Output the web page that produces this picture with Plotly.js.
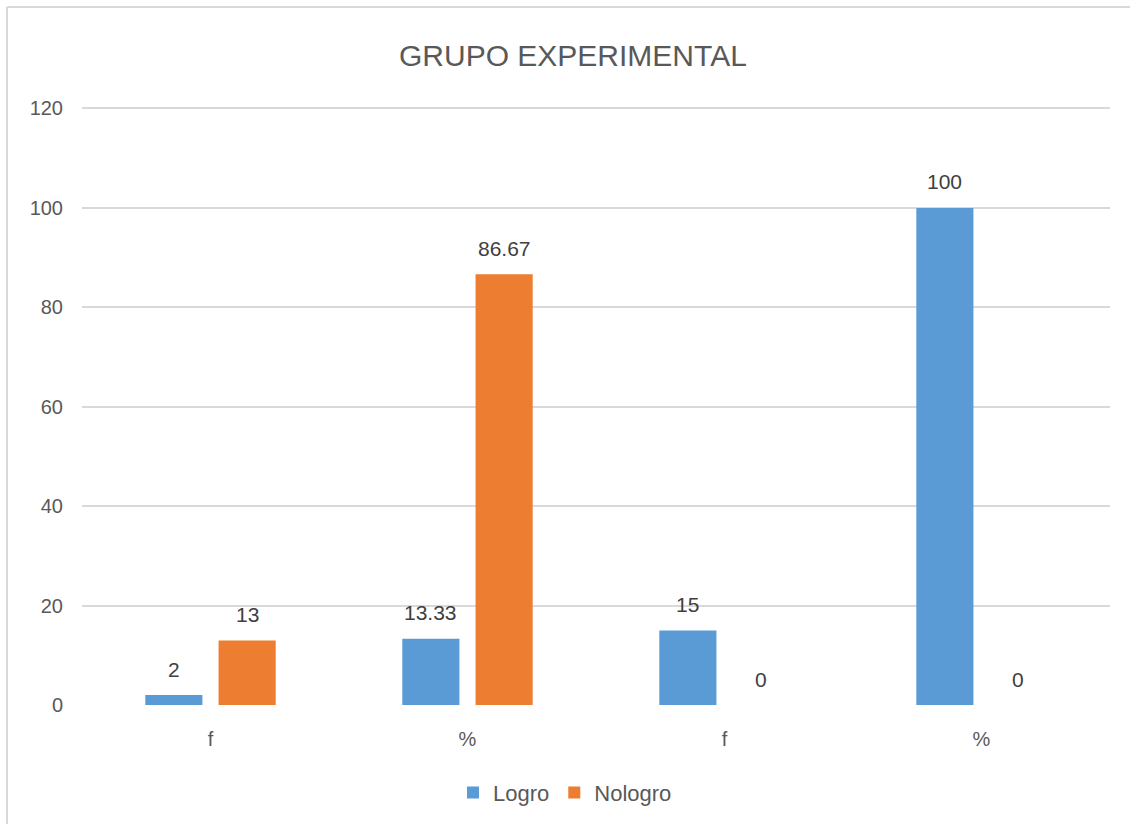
<!DOCTYPE html>
<html>
<head>
<meta charset="utf-8">
<script src="https://cdn.plot.ly/plotly-3.0.1.min.js"></script>
<style>
  html, body { margin: 0; padding: 0; background: #fff; overflow: hidden; width: 1130px; height: 824px; }
  #chart { width: 1130px; height: 824px; position: absolute; left: 0; top: 0; }
</style>
</head>
<body>
<div id="chart"></div>
<script>
const categories = ['f', '%', 'f', '%'];
const seriesNames = ['Logro', 'Nologro'];
const logro = [2, 13.33, 15, 100];
const nologro = [13, 86.67, 0, 0];
const yTicks = [0, 20, 40, 60, 80, 100, 120];

const positions = categories.map((c, i) => i);
const colors = ['#5B9BD5', '#ED7D31'];
const series = [logro, nologro];

const traces = series.map((vals, k) => ({
  type: 'bar',
  name: seriesNames[k],
  x: positions,
  y: vals,
  marker: { color: colors[k] },
  hoverinfo: 'skip'
}));

// data labels above bars
const bargap = 0.43, groupgap = 0.22;
const slot = (1 - bargap) / 2;
const annotations = [];
series.forEach((vals, k) => {
  vals.forEach((v, i) => {
    annotations.push({
      x: positions[i] + (k === 0 ? -slot / 2 : slot / 2),
      y: v, xref: 'x', yref: 'y',
      text: String(v), showarrow: false,
      yanchor: 'middle', yshift: 26,
      font: { family: 'Liberation Sans, Arial, sans-serif', size: 21, color: '#404040' }
    });
  });
});

const W = 1130, H = 824, mL = 82, mR = 20, mT = 107, mB = 119;
const pw = W - mL - mR, ph = H - mT - mB;
// outer chart-area frame (left and top edges) in paper units
const fx0 = (7 - mL) / pw, fx1 = (W - mL) / pw;
const fy0 = (mB - H) / ph, fy1 = (H - mB - 7) / ph;

const layout = {
  width: W, height: H,
  margin: { l: mL, r: mR, t: mT, b: mB },
  paper_bgcolor: '#ffffff', plot_bgcolor: '#ffffff',
  font: { family: 'Liberation Sans, Arial, sans-serif', color: '#595959' },
  title: {
    text: 'GRUPO EXPERIMENTAL',
    x: 0.507, xref: 'container', xanchor: 'center',
    y: 0.933, yref: 'container', yanchor: 'middle',
    font: { size: 30, color: '#595959' }
  },
  barmode: 'group', bargap: bargap, bargroupgap: groupgap,
  xaxis: {
    range: [-0.5, positions.length - 0.5],
    tickvals: positions, ticktext: categories,
    showgrid: false, zeroline: false, showline: false,
    ticks: 'outside', ticklen: 16, tickcolor: 'rgba(0,0,0,0)',
    tickfont: { size: 20, color: '#595959' }
  },
  yaxis: {
    range: [0, 120.3], tickvals: yTicks,
    showgrid: true, gridcolor: '#d9d9d9', gridwidth: 2,
    zeroline: false, showline: false,
    ticks: 'outside', ticklen: 14, tickcolor: 'rgba(0,0,0,0)',
    tickfont: { size: 20, color: '#595959' }
  },
  showlegend: true,
  legend: {
    orientation: 'h', x: 0.5, xanchor: 'center', xref: 'container',
    y: 0.038, yanchor: 'middle', yref: 'container',
    font: { size: 22, color: '#595959' },
    itemwidth: 30, tracegroupgap: 0
  },
  shapes: [
    { type: 'line', xref: 'paper', yref: 'paper', x0: fx0, x1: fx0, y0: fy0, y1: fy1,
      line: { color: '#d9d9d9', width: 2 }, layer: 'below' },
    { type: 'line', xref: 'paper', yref: 'paper', x0: fx0, x1: fx1, y0: fy1, y1: fy1,
      line: { color: '#d9d9d9', width: 2 }, layer: 'below' }
  ],
  annotations: annotations
};

Plotly.newPlot('chart', traces, layout, { displayModeBar: false, staticPlot: true });
</script>
</body>
</html>
